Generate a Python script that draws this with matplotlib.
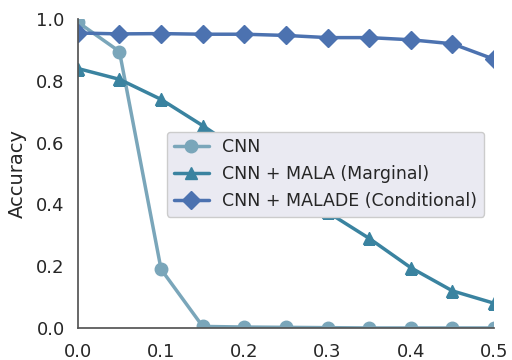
import matplotlib
matplotlib.use("Agg")
import matplotlib.pyplot as plt
from matplotlib.path import Path
import seaborn as sns

sns.set_style("white")
plt.rcParams['font.family'] = ['DejaVu Sans']

noise = [0.0, 0.05, 0.1, 0.15, 0.2, 0.25, 0.3, 0.35, 0.4, 0.45, 0.5]
acc_cnn = [0.99, 0.895, 0.19, 0.005, 0.003, 0.002, 0.001, 0.0, 0.0, 0.0, 0.0]
acc_mala = [0.84, 0.805, 0.74, 0.655, 0.565, 0.47, 0.375, 0.29, 0.195, 0.12, 0.08]
acc_malade = [0.955, 0.952, 0.953, 0.951, 0.951, 0.947, 0.940, 0.940, 0.933, 0.920, 0.870]

labels = ["CNN", "CNN + MALA (Marginal)", "CNN + MALADE (Conditional)"]
colors = ["#7aa6ba", "#3a83a0", "#4c72b0"]
markers = ["o", "^", "D"]

fig = plt.figure(figsize=(5.12, 3.6), dpi=100)
ax = fig.add_axes([0.152, 0.089, 0.813, 0.858])

for ys, c, m, lab in zip([acc_cnn, acc_mala, acc_malade], colors, markers, labels):
    line, = ax.plot(noise, ys, marker=m, color=c, lw=2.5, ms=9, label=lab)
    # real path (not a Rectangle) so the markers get cut at the axes edge
    line.set_clip_path(Path.unit_rectangle(), ax.transAxes)

ax.set_xlim(0, 0.5)
ax.set_ylim(0, 1.0)
ax.set_xticks([0.0, 0.1, 0.2, 0.3, 0.4, 0.5])
ax.set_yticks([0.0, 0.2, 0.4, 0.6, 0.8, 1.0])
ax.tick_params(axis="x", labelsize=13, pad=7)
ax.tick_params(axis="y", labelsize=13, pad=6)
ax.set_ylabel("Accuracy", fontsize=14, labelpad=7)
sns.despine(ax=ax)
for side in ["left", "bottom"]:
    ax.spines[side].set_color("#555555")
    ax.spines[side].set_linewidth(1.25)

leg = ax.legend(loc="center left", bbox_to_anchor=(0.193, 0.498), fontsize=12.5,
                frameon=True, framealpha=1.0, facecolor="#eaeaf2", edgecolor="#cccccc")

fig.savefig("out.png", dpi=100)
